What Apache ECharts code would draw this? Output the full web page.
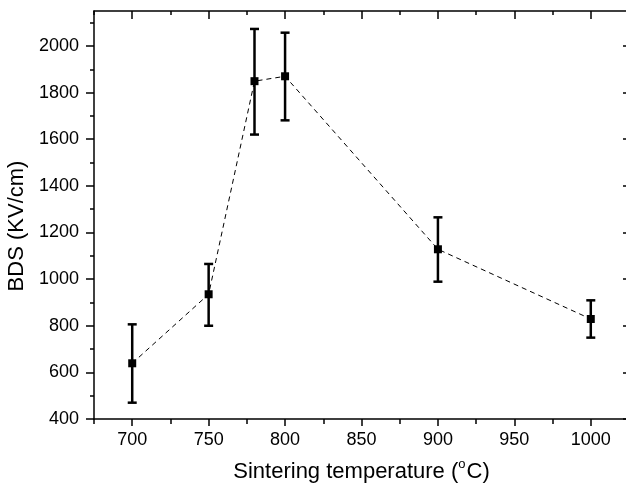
<!DOCTYPE html>
<html>
<head>
<meta charset="utf-8">
<script src="https://cdn.jsdelivr.net/npm/echarts@6/dist/echarts.min.js"></script>
<style>
html, body { margin: 0; padding: 0; background: #fff; }
#chart { width: 626px; height: 483px; }
</style>
</head>
<body>
<div id="chart"></div>
<script>
// 数据
var temps = [700, 750, 780, 800, 900, 1000];
var bds = [639, 935, 1849, 1870, 1128, 829];
var errHigh = [806, 1065, 2073, 2057, 1265, 909];
var errLow = [470, 800, 1620, 1681, 989, 749];

// 刻度
var xMajor = [700, 750, 800, 850, 900, 950, 1000];
var xMinor = [675, 725, 775, 825, 875, 925, 975, 1025];
var yMajor = [400, 600, 800, 1000, 1200, 1400, 1600, 1800, 2000];
var yMinor = [500, 700, 900, 1100, 1300, 1500, 1700, 1900, 2100];

var font = "'Liberation Sans', Arial, sans-serif";

var linePts = temps.map(function (t, i) { return [t, bds[i]]; });
var errPts = temps.map(function (t, i) { return [t, errLow[i], errHigh[i]]; });

function xAx(pos, ticks, len, inside, extra) {
	var a = {
		type: 'value', position: pos, min: 675, max: 1025,
		splitLine: { show: false },
		axisLine: { show: false },
		axisTick: { show: true, inside: inside, length: len, customValues: ticks,
			lineStyle: { color: '#000', width: 1.5 } },
		axisLabel: { show: false }
	};
	return Object.assign(a, extra || {});
}
function yAx(pos, ticks, len, inside, extra) {
	var a = {
		type: 'value', position: pos, min: 400, max: 2150,
		splitLine: { show: false },
		axisLine: { show: false },
		axisTick: { show: true, inside: inside, length: len, customValues: ticks,
			lineStyle: { color: '#000', width: 1.5 } },
		axisLabel: { show: false }
	};
	return Object.assign(a, extra || {});
}
function plain(v) { return String(v); }

var chart = echarts.init(document.getElementById('chart'));
var option = {
	animation: false,
	backgroundColor: '#fff',
	grid: { left: 94, top: 11, right: -3, bottom: 64, containLabel: false, outerBoundsMode: 'none' },
	xAxis: [
		xAx('bottom', xMajor, 7, false, {
			axisLine: { show: true, lineStyle: { color: '#000', width: 1.5 } },
			axisLabel: { show: true, customValues: xMajor, margin: 12, formatter: plain,
				color: '#000', fontSize: 18, fontFamily: font },
			name: 'Sintering temperature ({sup|o}C)',
			nameLocation: 'middle', nameGap: 39,
			nameTextStyle: { color: '#000', fontSize: 22, fontFamily: font,
				rich: { sup: { fontSize: 13, fontFamily: font, color: '#000', padding: [0, 1, 14, 0] } } }
		}),
		xAx('bottom', xMinor, 5, false),
		xAx('top', xMajor, 8, true, {
			axisLine: { show: true, lineStyle: { color: '#000', width: 1.5 } }
		}),
		xAx('top', xMinor, 4, true)
	],
	yAxis: [
		yAx('left', yMajor, 8, false, {
			axisLine: { show: true, lineStyle: { color: '#000', width: 1.5 } },
			axisLabel: { show: true, customValues: yMajor, margin: 15, formatter: plain,
				color: '#000', fontSize: 18, fontFamily: font },
			name: 'BDS (KV/cm)',
			nameLocation: 'middle', nameGap: 65,
			nameTextStyle: { color: '#000', fontSize: 22, fontFamily: font, padding: [0, 22, 0, 0] }
		}),
		yAx('left', yMinor, 4, false),
		yAx('right', yMajor, 6, true, {
			axisLine: { show: true, lineStyle: { color: '#000', width: 1.5 } }
		}),
		yAx('right', yMinor, 3, true)
	],
	series: [
		{
			type: 'custom',
			xAxisIndex: 0, yAxisIndex: 0,
			z: 1,
			data: errPts,
			renderItem: function (params, api) {
				var lo = api.coord([api.value(0), api.value(1)]);
				var hi = api.coord([api.value(0), api.value(2)]);
				var w = 4.5;
				var st = { stroke: '#000', lineWidth: 2.5 };
				return {
					type: 'group',
					children: [
						{ type: 'line', shape: { x1: hi[0], y1: hi[1], x2: lo[0], y2: lo[1] }, style: st },
						{ type: 'line', shape: { x1: hi[0] - w, y1: hi[1], x2: hi[0] + w, y2: hi[1] }, style: st },
						{ type: 'line', shape: { x1: lo[0] - w, y1: lo[1], x2: lo[0] + w, y2: lo[1] }, style: st }
					]
				};
			}
		},
		{
			type: 'line',
			xAxisIndex: 0, yAxisIndex: 0,
			z: 2,
			data: linePts,
			symbol: 'rect',
			symbolSize: 8,
			itemStyle: { color: '#000' },
			lineStyle: { color: '#000', width: 1, type: [5, 4] }
		}
	]
};
chart.setOption(option);
window.addEventListener('resize', function () { chart.resize(); });
</script>
</body>
</html>
